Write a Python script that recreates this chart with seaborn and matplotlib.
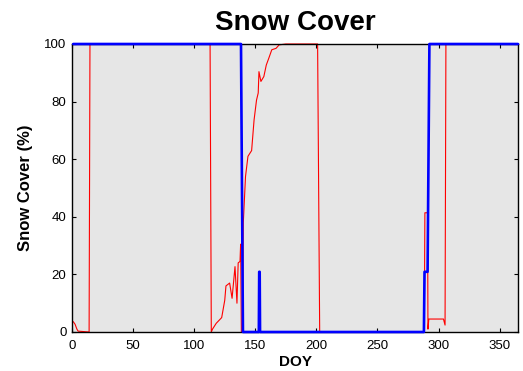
import matplotlib
matplotlib.use("Agg")
import matplotlib.pyplot as plt
import seaborn as sns
import pandas as pd

# ---- data ----
red_doy = [1, 2.5, 4, 5, 14, 14.7, 113, 114, 115, 118, 122.5, 125, 126, 129, 131,
           133.4, 135, 136, 137.5, 138, 138.6, 139.6, 140.2, 142, 144, 147, 149,
           151, 152.4, 153, 154.6, 157, 159, 161, 163.5, 167, 169.5, 175, 201,
           202.7, 288.3, 288.8, 291, 291.3, 292, 304, 305.3, 306, 365]
red_val = [3.6, 2.7, 1, 0.3, 0, 100, 100, 0, 1, 3, 5, 11, 16, 17, 11.7,
           22.7, 10, 24, 24.5, 30.5, 0, 0, 38, 54, 61, 63, 73.6,
           80.5, 83, 90.4, 87, 88.7, 92.7, 95, 98, 98.5, 99.7, 100, 100,
           0, 0, 41.4, 41.4, 1, 4.5, 4.5, 2.4, 100, 100]

blue_doy = [1, 138.3, 139.9, 152.9, 153.2, 153.6, 153.9, 288, 288.5, 291, 292.5, 365]
blue_val = [100, 100, 0, 0, 20.9, 20.9, 0, 0, 20.9, 20.9, 100, 100]

x_ticks = [0, 50, 100, 150, 200, 250, 300, 350]
y_ticks = [0, 20, 40, 60, 80, 100]

red_df = pd.DataFrame({"DOY": red_doy, "cover": red_val})
blue_df = pd.DataFrame({"DOY": blue_doy, "cover": blue_val})

sns.set_theme(style="ticks")
plt.rcParams["font.family"] = ["Liberation Sans", "DejaVu Sans"]
plt.rcParams["text.color"] = "black"
plt.rcParams["axes.labelcolor"] = "black"

fig = plt.figure(figsize=(5.23, 3.71), dpi=100)
ax = fig.add_axes([72 / 523, 1 - 332 / 371, 446 / 523, 288 / 371])
ax.set_facecolor("#e6e6e6")

sns.lineplot(data=red_df, x="DOY", y="cover", color="#ff0000", linewidth=0.8,
             estimator=None, sort=False, ax=ax, clip_on=False, zorder=2)
sns.lineplot(data=blue_df, x="DOY", y="cover", color="#0000ff", linewidth=1.9,
             estimator=None, sort=False, ax=ax, clip_on=False, zorder=3)

ax.set_xlim(0, 365)
ax.set_ylim(0, 100)
ax.set_xticks(x_ticks)
ax.set_yticks(y_ticks)
ax.tick_params(direction="in", length=3, width=0.8, top=True, right=True,
               labelsize=9.5, colors="black")
ax.tick_params(axis="x", pad=6)
ax.tick_params(axis="y", pad=4)
for s in ax.spines.values():
    s.set_linewidth(1.0)
    s.set_color("black")

ax.set_title("Snow Cover", fontsize=20, fontweight="bold", pad=10, color="black")
ax.set_xlabel("DOY", fontsize=11, fontweight="bold", labelpad=2)
ax.set_ylabel("Snow Cover (%)", fontsize=12, fontweight="bold", labelpad=8)

fig.savefig("out.png", dpi=100)
